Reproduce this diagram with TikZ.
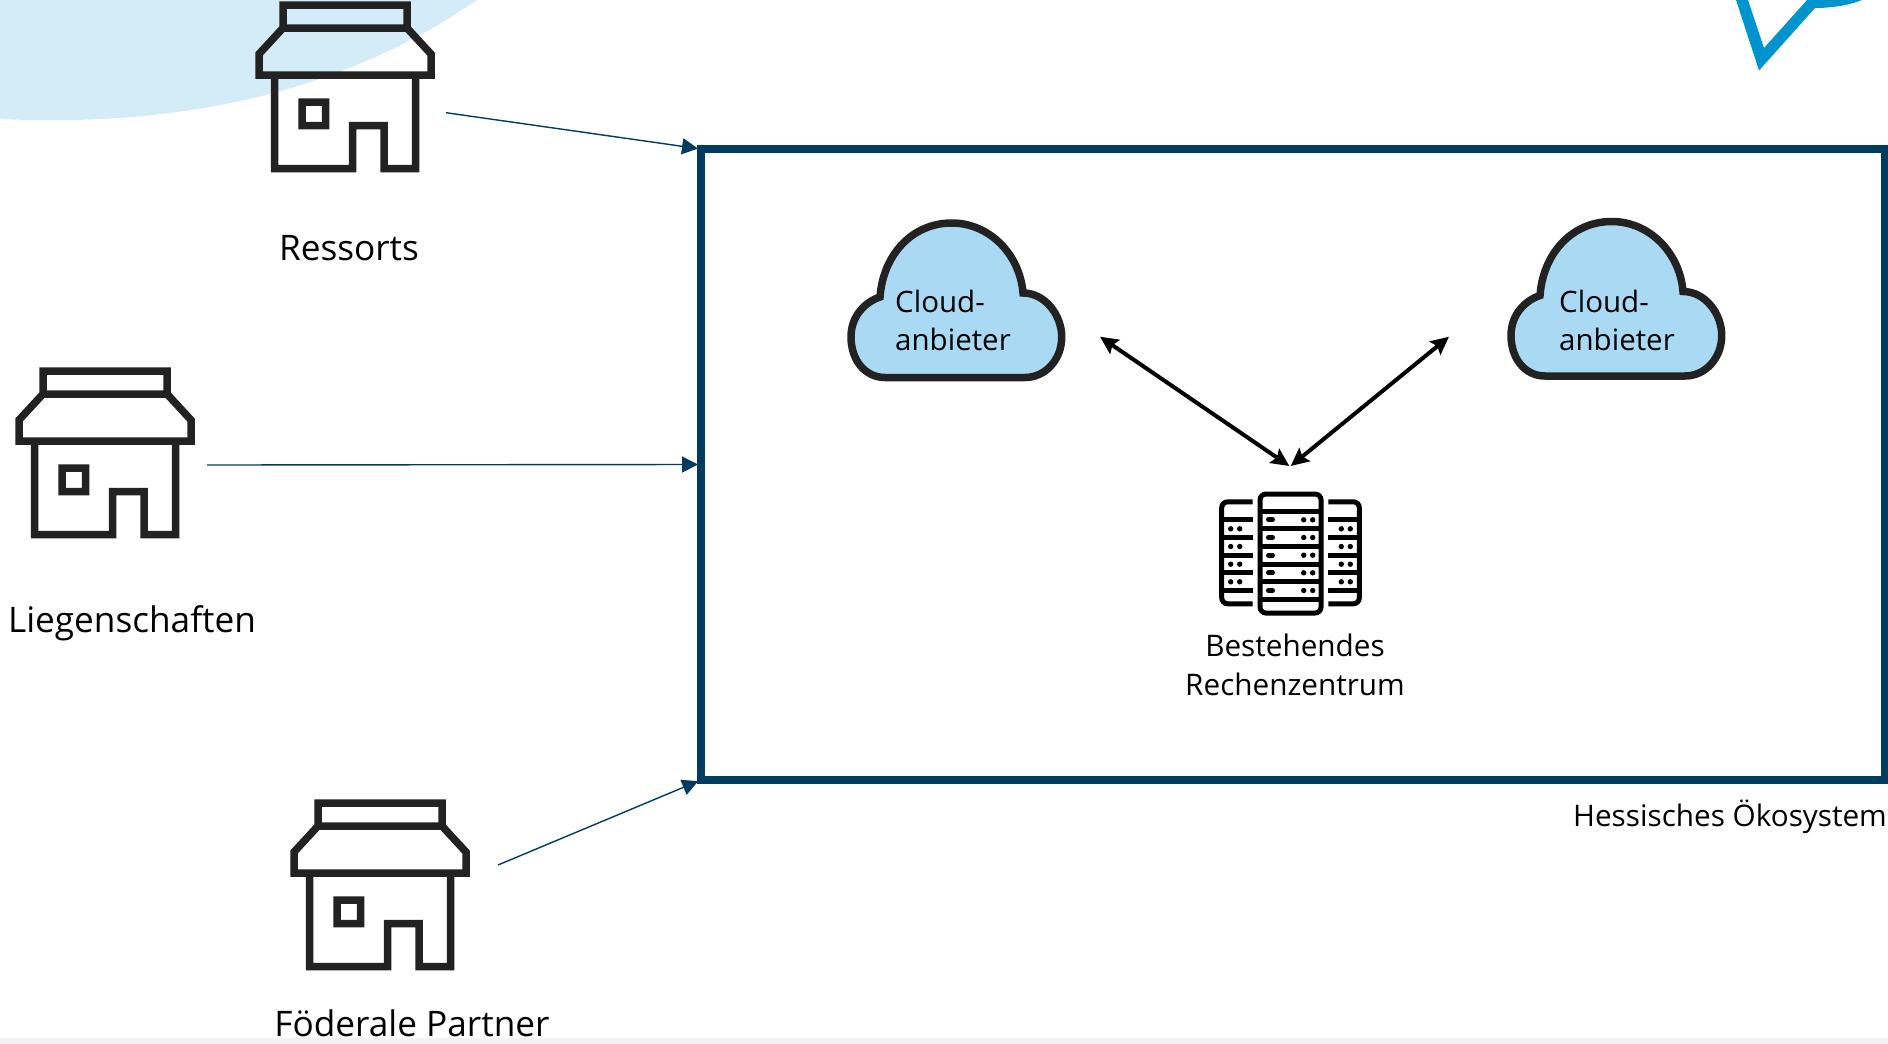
\documentclass[tikz,border=0pt]{standalone}
\usepackage{fontspec}
\setmainfont{Open Sans}
\usetikzlibrary{arrows.meta}
\definecolor{ecoblue}{HTML}{003C5F}
\definecolor{cloudblue}{HTML}{A9D9F3}
\definecolor{paleblue}{HTML}{D4ECF8}
\definecolor{starblue}{HTML}{0094CF}
\definecolor{iconblack}{HTML}{222222}
\definecolor{stripgrey}{HTML}{F2F2F2}
\tikzset{
  houseicon/.pic={
    \draw[iconblack, line width=7.5, miter limit=10]
      (-62,0) rectangle (62,23)
      (-62,23) -- (-86,49) -- (-86,70) -- (86,70) -- (86,49) -- (62,23)
      (-70.5,70) -- (-70.5,163.5) -- (7.5,163.5) -- (7.5,120.5) -- (39,120.5) -- (39,163.5) -- (70.5,163.5) -- (70.5,70)
      (-43,97) rectangle (-19.5,120.5);
  },
  cloudicon/.pic={
    \draw[iconblack, fill=cloudblue, line width=7.5]
      (-71,77.5) .. controls (-91,77.5) and (-105,60) .. (-105,37)
      .. controls (-105,16) and (-91,2) .. (-76,-3)
      .. controls (-73,-45) and (-44,-77) .. (-4.3,-77)
      .. controls (34,-77) and (64,-45) .. (67,-7)
      .. controls (89,-7) and (105.7,15) .. (105.7,37)
      .. controls (105.7,60) and (89,77.5) .. (69,77.5) -- cycle;
  },
  servericon/.pic={
    % middle rack
    \draw[black, line width=5, rounded corners=6] (-30.5,-59.5) rectangle (30.5,59.5);
    \foreach \y in {-42.3,-24.7,-7,10.7,28.3,46}
      \draw[black, line width=5] (-30.5,\y) -- (30.5,\y);
    \foreach \y in {-33.7,-16,1.7,19.3,37} {
      \draw[black, line width=5, line cap=round] (-22,\y) -- (-18,\y);
      \fill[black] (13.2,\y) circle (2.7) (22.2,\y) circle (2.7);
    }
    % side racks
    \foreach \s in {-1,1} {
      \draw[black, line width=5, rounded corners=6] (\s*37.8,-51.7) -- (\s*68.8,-51.7) -- (\s*68.8,50.3) -- (\s*37.8,50.3);
      \foreach \y in {-33.7,-16,1.7,19.3,37}
        \draw[black, line width=5] (\s*37.8,\y) -- (\s*68.8,\y);
      \foreach \y in {-24.7,-7,10.7,28.3}
        \fill[black] (\s*50.8,\y) circle (2.7) (\s*59.8,\y) circle (2.7);
    }
  }
}
\begin{document}
\begin{tikzpicture}[x=1pt,y=-1pt]
\tikzstyle{ecobox} = [rectangle, draw=ecoblue, line width=8, minimum width=1184, minimum height=631, inner sep=0, outer sep=0]
\tikzstyle{label} = [inner sep=0, font=\fontsize{35.2}{40}\selectfont]
\tikzstyle{smalllabel} = [inner sep=0, align=center, font=\fontsize{29.7}{38.5}\selectfont]
\tikzstyle{cloudlabel} = [inner sep=0, align=left, anchor=north west, font=\fontsize{29.5}{38}\selectfont]
\tikzstyle{linkarrow} = [ecoblue, line width=1.4, shorten >=3, -{Triangle[length=16, width=16]}]
\tikzstyle{bothwayarrow} = [black, line width=4, {Stealth[length=18, width=17, inset=3]}-{Stealth[length=18, width=17, inset=3]}]

\useasboundingbox (0,0) rectangle (1888,1044);

%backdrop
\fill[paleblue] (0,0) -- (0,119) .. controls (190,128) and (350,88) .. (477,0) -- cycle;
\fill[starblue] (1736,0) -- (1759,70.5) -- (1815,8) .. controls (1832,8) and (1850,5) .. (1862,0) -- (1807,0) -- (1764,48) -- (1748,0) -- cycle;

%window edge
\fill[stripgrey] (0,1038) rectangle (1888,1044);

%nodes
\node (eco) [ecobox] at (1293,464.5) {};
\path (345,5) pic {houseicon};
\path (105,371) pic {houseicon};
\path (380,803) pic {houseicon};
\path (956,300) pic {cloudicon};
\path (1616,298.5) pic {cloudicon};
\path (1290.5,553.5) pic {servericon};

\node (ressorts) [label] at (349,248) {Ressorts};
\node (liegen) [label] at (132,623) {Liegenschaften};
\node (partner) [label] at (412,1023.5) {Föderale Partner};
\node (cloudleft) [cloudlabel] at (895,290) {Cloud-\\anbieter};
\node (cloudright) [cloudlabel] at (1559,290) {Cloud-\\anbieter};
\node (rechen) [smalllabel] at (1295,665) {Bestehendes\\Rechenzentrum};
\node (hessen) [smalllabel, anchor=east] at (1887,816.5) {Hessisches Ökosystem};

\coordinate (ressortsout) at (446,112.7);
\coordinate (liegenout) at (207,465);
\coordinate (partnerout) at (498,865);
\coordinate (leftend) at (1100,336.7);
\coordinate (rightend) at (1449,336.7);
\coordinate (serverleft) at (1289.3,466);
\coordinate (serverright) at (1290.7,466);

%lines
\draw [linkarrow] (ressortsout) -- (eco.north west);
\draw [linkarrow] (liegenout) -- (eco.west);
\draw [linkarrow] (partnerout) -- (eco.south west);
\draw [bothwayarrow] (leftend) -- (serverleft);
\draw [bothwayarrow] (rightend) -- (serverright);
\end{tikzpicture}
\end{document}
